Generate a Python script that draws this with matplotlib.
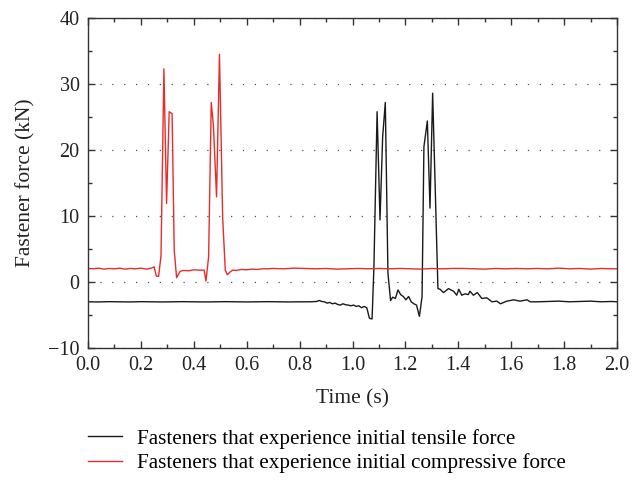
import matplotlib.pyplot as plt
from matplotlib.ticker import MultipleLocator

plt.rcParams['font.family'] = ['Liberation Serif', 'DejaVu Serif']

# Fasteners with initial compressive force (red)
t_comp = [0.00, 0.02, 0.04, 0.06, 0.08, 0.10, 0.12, 0.14, 0.16, 0.18, 0.20, 0.22, 0.24,
          0.250, 0.258, 0.267, 0.276, 0.287, 0.297, 0.307, 0.318, 0.326, 0.335, 0.348,
          0.36, 0.38, 0.40, 0.42,
          0.439, 0.446, 0.456, 0.466, 0.474, 0.486, 0.497, 0.509, 0.519, 0.527, 0.537, 0.547,
          0.56, 0.58, 0.60, 0.62, 0.64, 0.66, 0.68, 0.70,
          0.74, 0.78, 0.82, 0.86, 0.90, 0.94, 0.98, 1.02, 1.06, 1.10, 1.14, 1.18, 1.22, 1.26,
          1.30, 1.34, 1.38, 1.42, 1.46, 1.50, 1.54, 1.58, 1.62, 1.66, 1.70, 1.74, 1.78, 1.82,
          1.86, 1.90, 1.94, 1.98, 2.00]
f_comp = [2.05, 2.0, 2.1, 1.95, 2.05, 2.0, 2.1, 1.95, 2.05, 2.0, 2.1, 1.95, 2.1,
          2.3, 0.9, 0.85, 4.0, 32.3, 11.9, 25.8, 25.5, 4.8, 0.65, 1.6,
          1.75, 1.7, 1.85, 1.8,
          1.8, 0.15, 3.8, 27.2, 23.8, 12.9, 34.5, 9.9, 1.8, 1.1, 1.5, 1.8,
          1.75, 1.9, 1.85, 1.95, 1.9, 2.0, 2.0, 2.05,
          2.0, 2.1, 2.05, 2.0, 2.05, 1.95, 2.0, 2.05, 2.0, 2.05, 2.0, 2.05, 2.0, 1.95,
          2.05, 2.0, 2.05, 2.05, 2.0, 1.95, 2.05, 2.0, 2.05, 2.0, 2.05, 2.0, 2.1, 2.0,
          2.05, 1.95, 2.05, 2.0, 2.0]

# Fasteners with initial tensile force (black)
t_tens = [0.00, 0.04, 0.08, 0.12, 0.16, 0.20, 0.24, 0.28, 0.32, 0.36, 0.40, 0.44,
          0.48, 0.52, 0.56, 0.60, 0.64, 0.68, 0.72, 0.76, 0.80, 0.84,
          0.864, 0.874, 0.884, 0.894, 0.904, 0.914, 0.924, 0.934, 0.944, 0.954, 0.964,
          0.974, 0.984, 0.994, 1.004, 1.014, 1.024, 1.034, 1.044, 1.054, 1.064, 1.074,
          1.081, 1.093, 1.104, 1.114, 1.124, 1.134, 1.144, 1.152, 1.162, 1.172, 1.182,
          1.192, 1.202, 1.212, 1.222, 1.232, 1.242, 1.253, 1.263, 1.270, 1.283, 1.293,
          1.303, 1.323, 1.331, 1.344, 1.354, 1.363, 1.372, 1.382, 1.394, 1.402, 1.413,
          1.425, 1.438, 1.444, 1.457, 1.472, 1.489, 1.508, 1.527, 1.546, 1.559, 1.584,
          1.609, 1.634, 1.660, 1.672, 1.70, 1.74, 1.78, 1.82, 1.86, 1.90, 1.94, 1.98, 2.00]
f_tens = [-3.0, -3.02, -2.98, -3.0, -3.02, -2.98, -3.0, -3.02, -3.0, -2.98, -3.0, -3.02,
          -3.0, -2.98, -3.0, -3.02, -3.0, -2.98, -3.0, -3.02, -3.0, -3.0,
          -2.95, -2.8, -2.95, -3.0, -3.2, -3.1, -3.3, -3.2, -3.4, -3.5, -3.3,
          -3.45, -3.5, -3.6, -3.5, -3.7, -3.6, -3.9, -3.7, -3.9, -5.5, -5.6,
          2.3, 25.8, 9.4, 22.0, 27.2, 1.3, -2.8, -2.3, -2.5, -1.2, -1.9,
          -2.2, -2.7, -2.2, -3.0, -3.3, -3.5, -5.2, -2.2, 20.5, 24.4, 11.2,
          28.6, -1.0, -1.1, -1.6, -1.3, -1.0, -1.2, -1.4, -2.0, -1.1, -2.0,
          -1.8, -1.9, -1.4, -2.0, -1.6, -2.5, -2.4, -3.0, -2.9, -3.3, -2.9,
          -2.7, -2.9, -2.7, -3.0, -3.0, -2.95, -2.9, -3.0, -2.95, -2.9, -3.0, -2.95, -3.0]

fig = plt.figure(figsize=(6.39, 4.84), dpi=100)
ax = fig.add_axes([88 / 639, 1 - 348 / 484, (617 - 88) / 639, (348 - 18) / 484])

l1, = ax.plot(t_tens, f_tens, color='#1a1a1a', lw=1.0,
              label='Fasteners that experience initial tensile force')
l2, = ax.plot(t_comp, f_comp, color='#ea2b2b', lw=1.0,
              label='Fasteners that experience initial compressive force')

ax.set_xlim(0, 2.0)
ax.set_ylim(-10, 40)
ax.xaxis.set_major_locator(MultipleLocator(0.2))
ax.xaxis.set_minor_locator(MultipleLocator(0.1))
ax.yaxis.set_major_locator(MultipleLocator(10))
ax.yaxis.set_minor_locator(MultipleLocator(5))
ax.xaxis.set_major_formatter(plt.FuncFormatter(lambda v, p: f'{v:.1f}'))
ax.yaxis.set_major_formatter(plt.FuncFormatter(lambda v, p: f'{v:.0f}'.replace('-', '\u2212')))
ax.tick_params(which='both', direction='in', top=True, right=True,
               width=1.0, labelsize=14.5, color='#333333', labelcolor='#222222')
ax.tick_params(which='major', length=5, pad=6)
ax.tick_params(which='minor', length=3)
ax.grid(axis='y', which='major', linestyle=(0, (1, 8.5)), color='#555555', lw=0.9)
for s in ax.spines.values():
    s.set_color('#333333')
    s.set_linewidth(1.0)

ax.set_xlabel('Time (s)', fontsize=15.5, color='#222222', labelpad=10)
ax.set_ylabel('Fastener force (kN)', fontsize=15.5, color='#222222', labelpad=9)

fig.legend(handles=[l1, l2], loc='center left', bbox_to_anchor=(88 / 639, 1 - 451 / 484),
           frameon=False, fontsize=15.2, borderpad=0, borderaxespad=0,
           handlelength=1.63, handletextpad=0.7, labelspacing=0.22)

fig.savefig('out.png', dpi=100)
